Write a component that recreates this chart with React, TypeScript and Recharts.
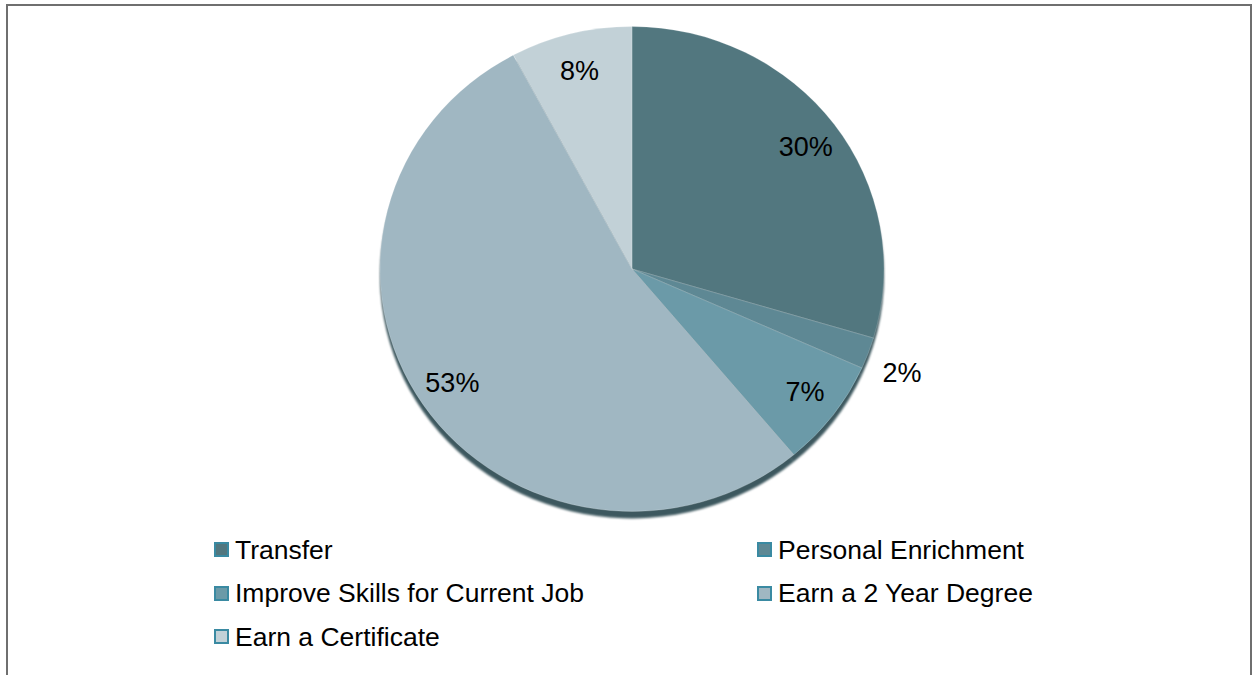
import React from 'react';
import { PieChart, Pie, Cell, Legend } from 'recharts';

const categories = [
  'Transfer',
  'Personal Enrichment',
  'Improve Skills for Current Job',
  'Earn a 2 Year Degree',
  'Earn a Certificate',
];
const values = [29.6, 2.1, 7.2, 53.3, 7.8];
const colors = ['#52777f', '#5e8894', '#6b9aa8', '#a0b7c2', '#c2d1d7'];

const data = categories.map((name, i) => ({ name, value: values[i] }));

const FONT = '"Liberation Sans", Arial, sans-serif';
const RADIAN = Math.PI / 180;

const renderLabel = (props: any) => {
  const { cx, cy, midAngle, outerRadius, percent } = props;
  const outside = percent < 0.05;
  const rx = outside ? outerRadius + 36 : outerRadius * 0.86;
  const ry = outside ? rx * 1.04 : rx * 0.94;
  const x = cx + rx * Math.cos(-midAngle * RADIAN);
  const y = cy + ry * Math.sin(-midAngle * RADIAN);
  return (
    <text
      x={x}
      y={y}
      fill="#000"
      textAnchor="middle"
      dominantBaseline="central"
      style={{ fontFamily: FONT, fontSize: 27 }}
    >
      {`${Math.round(percent * 100)}%`}
    </text>
  );
};

const LegendContent = () => (
  <div
    style={{
      display: 'flex',
      flexWrap: 'wrap',
      width: 1086,
      fontFamily: FONT,
      fontSize: 26.5,
      color: '#000',
    }}
  >
    {categories.map((c, i) => (
      <div
        key={c}
        style={{ width: 543, height: 43.5, display: 'flex', alignItems: 'center' }}
      >
        <span
          style={{
            display: 'inline-block',
            width: 11,
            height: 11,
            background: colors[i],
            border: '2px solid #3a8aa2',
            marginRight: 6,
          }}
        />
        <span style={{ lineHeight: '30px' }}>{c}</span>
      </div>
    ))}
  </div>
);

export default function App() {
  return (
    <div style={{ position: 'absolute', left: 0, top: 0, width: 1255, height: 675, background: '#fff', overflow: 'hidden' }}>
      <style>{`
        .recharts-pie.pie-main { transform-origin: 632px 269px; transform: scaleY(0.962); }
        .recharts-pie.pie-shadow { transform-origin: 632px 276px; transform: scaleY(0.962); filter: blur(1px); }
      `}</style>
      <div
        style={{
          position: 'absolute',
          left: 6,
          top: 4,
          width: 1246,
          height: 700,
          border: '2px solid #6f6f6f',
          boxSizing: 'border-box',
        }}
      />
      <div style={{ position: 'absolute', left: 0, top: 0 }}>
        <PieChart width={1255} height={675} margin={{ top: 0, right: 0, bottom: 0, left: 0 }}>
          <Pie
            data={data}
            dataKey="value"
            nameKey="name"
            cx={632}
            cy={276}
            outerRadius={252}
            startAngle={90}
            endAngle={-270}
            stroke="none"
            legendType="none"
            className="pie-shadow"
            isAnimationActive={false}
          >
            {data.map((d) => (
              <Cell key={`s-${d.name}`} fill="#3d585f" />
            ))}
          </Pie>
          <Pie
            data={data}
            dataKey="value"
            nameKey="name"
            cx={632}
            cy={269}
            outerRadius={252}
            startAngle={90}
            endAngle={-270}
            stroke="rgba(255,255,255,0.25)"
            strokeWidth={0.8}
            className="pie-main"
            label={renderLabel}
            labelLine={false}
            isAnimationActive={false}
          >
            {data.map((d, i) => (
              <Cell key={d.name} fill={colors[i]} />
            ))}
          </Pie>
          <Legend
            content={<LegendContent />}
            wrapperStyle={{ position: 'absolute', left: 214, top: 528, width: 1086 }}
          />
        </PieChart>
      </div>
    </div>
  );
}
